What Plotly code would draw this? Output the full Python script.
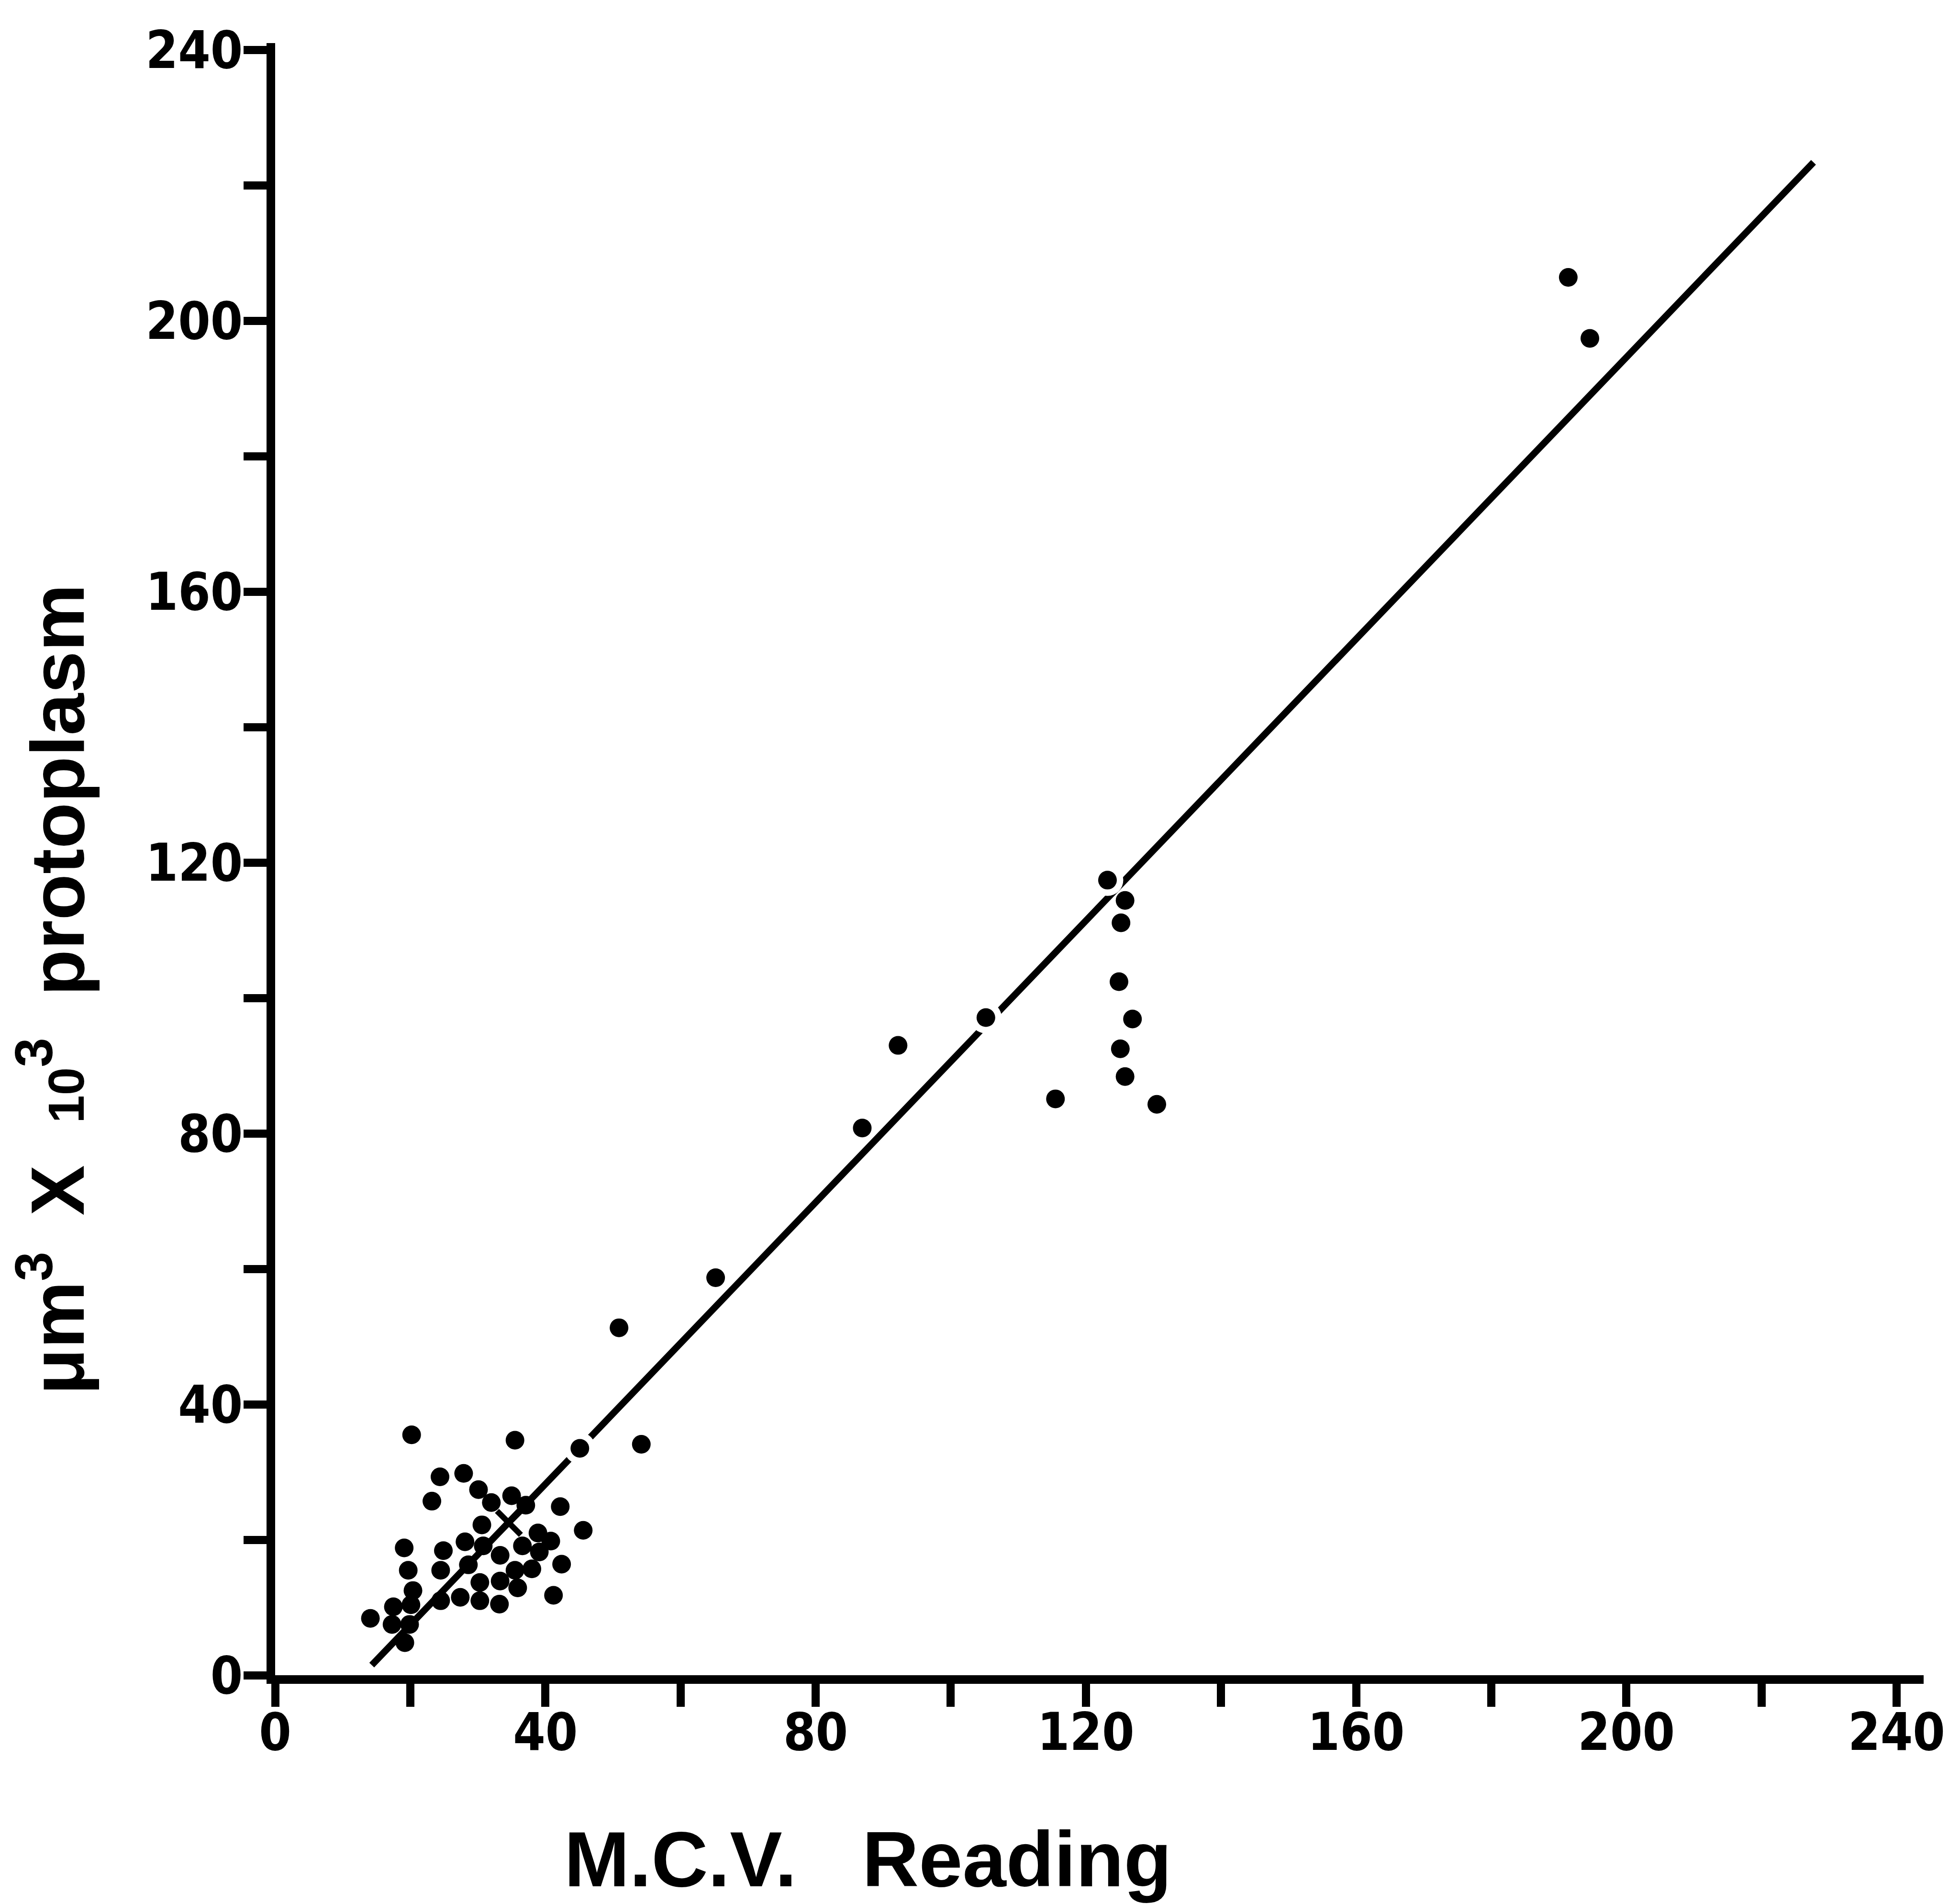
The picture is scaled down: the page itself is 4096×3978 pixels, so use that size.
import plotly.graph_objects as go

# ---- data ----
mcv = [191.4, 194.6, 123.2, 125.8, 125.2, 124.9, 126.9, 125.1, 125.8, 130.5,
       115.5, 105.2, 92.2, 86.9, 65.2, 50.9, 54.2, 45.1, 45.6, 20.2, 35.5,
       24.4, 27.9, 30.1, 23.2, 32.0, 35.0, 37.1, 42.2, 30.6, 38.9, 40.8,
       28.1, 24.9, 19.1, 42.4, 19.7, 24.5, 28.6, 30.8, 33.3, 33.3, 35.5,
       38.0, 39.1, 36.6, 30.3, 35.9, 41.2, 20.4, 27.4, 30.3, 33.2, 24.5,
       20.1, 17.5, 14.1, 17.3, 19.9, 19.2]
protoplasm = [206.4, 197.4, 117.4, 114.4, 111.1, 102.4, 96.9, 92.5, 88.4, 84.3,
              85.1, 97.1, 93.0, 80.8, 58.7, 51.3, 34.1, 33.5, 21.4, 35.5, 34.7,
              29.3, 29.8, 27.4, 25.7, 25.5, 26.5, 25.1, 24.9, 22.2, 21.0, 19.8,
              19.7, 18.4, 18.8, 16.4, 15.5, 15.5, 16.3, 19.1, 17.7, 13.9, 15.5,
              15.7, 18.2, 19.1, 13.7, 12.9, 11.8, 12.5, 11.5, 11.0, 10.5, 11.0,
              10.4, 10.1, 8.4, 7.5, 7.5, 4.8]
# points where the fitted line is interrupted around the dot
gap_points = [2, 11, 17]
mean_mcv = [34.6]
mean_protoplasm = [22.5]
fit_mcv = [14.3, 227.7]
fit_protoplasm = [1.5, 223.4]
x_ticks = [0, 40, 80, 120, 160, 200, 240]
y_ticks = [0, 40, 80, 120, 160, 200, 240]
x_minor = [20, 60, 100, 140, 180, 220]
y_minor = [20, 60, 100, 140, 180, 220]

W, H = 4096, 3978
L, R, T, B = 575, 76, 90, 478

fig = go.Figure()
fig.add_trace(go.Scatter(x=fit_mcv, y=fit_protoplasm, mode="lines",
                         line=dict(color="black", width=14), hoverinfo="skip"))
fig.add_trace(go.Scatter(x=[mcv[i] for i in gap_points],
                         y=[protoplasm[i] for i in gap_points], mode="markers",
                         marker=dict(color="white", size=66), hoverinfo="skip"))
fig.add_trace(go.Scatter(x=mcv, y=protoplasm, mode="markers",
                         marker=dict(color="black", size=39, line=dict(width=0))))
fig.add_trace(go.Scatter(x=mean_mcv, y=mean_protoplasm, mode="markers",
                         marker=dict(symbol="x-thin", size=50,
                                     line=dict(width=12, color="black"))))

tickfont = dict(family="Liberation Sans Narrow, Arial Narrow, DejaVu Sans Condensed, Liberation Sans",
                size=108, color="black", weight="bold")

fig.update_xaxes(range=[0, 244], showline=True, linewidth=18, linecolor="black",
                 ticks="outside", ticklen=48, tickwidth=17, tickcolor="black",
                 tickvals=x_ticks, ticktext=[str(v) for v in x_ticks],
                 tickfont=tickfont, ticklabelstandoff=-40,
                 showgrid=False, zeroline=False,
                 minor=dict(tickvals=x_minor, ticks="outside", ticklen=48,
                            tickwidth=17, tickcolor="black", showgrid=False))
fig.update_yaxes(range=[0, 241], showline=True, linewidth=18, linecolor="black",
                 ticks="outside", ticklen=48, tickwidth=17, tickcolor="black",
                 tickvals=y_ticks, ticktext=[str(v) for v in y_ticks],
                 tickfont=tickfont, ticklabelstandoff=-20,
                 showgrid=False, zeroline=False,
                 minor=dict(tickvals=y_minor, ticks="outside", ticklen=48,
                            tickwidth=17, tickcolor="black", showgrid=False))

pw = W - L - R
ph = H - T - B
title_font = dict(family="Liberation Sans, Arial, sans-serif", color="black", weight="bold")
fig.add_annotation(text="M.C.V.\u00a0\u00a0\u00a0Reading", xref="paper", yref="paper",
                   x=(1814 - L) / pw, y=(H - B - 3884) / ph, xanchor="center", yanchor="middle",
                   showarrow=False, font=dict(size=164, **title_font))
fig.add_annotation(text="\u03bcm<sup>3</sup>\u00a0\u2009X\u00a0\u00a0<span style='font-size:105px'>10</span><sup>3</sup>\u00a0\u00a0protoplasm",
                   xref="paper", yref="paper", textangle=-90,
                   x=(108 - L) / pw, y=(H - B - 2067) / ph, xanchor="center", yanchor="middle",
                   showarrow=False, font=dict(size=158, **title_font))

fig.update_layout(width=W, height=H, margin=dict(l=L, r=R, t=T, b=B),
                  paper_bgcolor="white", plot_bgcolor="white", showlegend=False)
fig.write_html("out.html")
